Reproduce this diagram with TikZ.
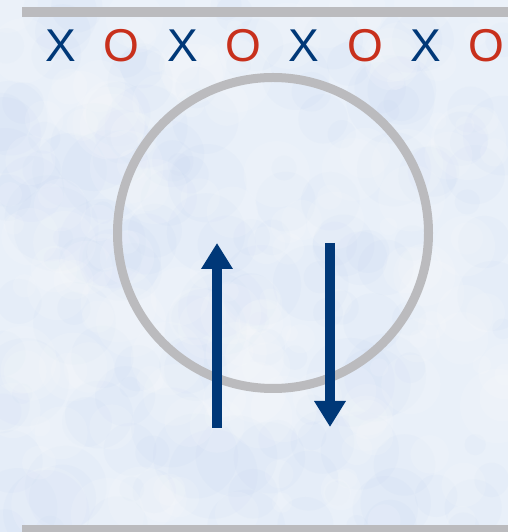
\documentclass[tikz,border=0pt]{standalone}
\usepackage{fontspec}
\newfontfamily\xofont{Liberation Sans}
\usepackage{tikz}
\usetikzlibrary{arrows.meta,calc,positioning}
\definecolor{railgray}{RGB}{187,187,190}
\definecolor{xnavy}{RGB}{0,56,120}
\definecolor{ored}{RGB}{200,48,28}
\definecolor{snowbase}{RGB}{233,240,249}
\definecolor{snowblue}{RGB}{170,196,232}
\tikzset{
  rail/.style={draw=railgray, line width=10pt},
  ring/.style={draw=railgray, line width=9pt},
  spin/.style={draw=xnavy, line width=10pt, -{Triangle[width=30pt,length=26pt]}},
  xmark/.style={anchor=base, inner sep=0pt, text=xnavy, font=\xofont\fontsize{46}{46}\selectfont},
  omark/.style={xmark, text=ored}
}
\begin{document}
\begin{tikzpicture}[x=1pt,y=1pt]
            \useasboundingbox (0,0) rectangle (508,532);
            \clip (0,0) rectangle (508,532);
            % Snowy background
            \fill[snowbase] (0,0) rectangle (508,532);
            \pgfmathsetseed{11}
            \foreach \i in {1,...,160}{
              \fill[snowblue, opacity=0.06] (rnd*508, rnd*532) circle ({10+rnd*35});
            }
            \foreach \i in {1,...,160}{
              \fill[white, opacity=0.12] (rnd*508, rnd*532) circle ({8+rnd*30});
            }
            % Rails
            \coordinate (topL) at (22, 520);
            \coordinate (topR) at (508, 520);
            \coordinate (botL) at (22, 1.5);
            \coordinate (botR) at (508, 1.5);
            \draw[rail] (topL) -- (topR);
            \draw[rail] (botL) -- (botR);
            % Row of marks
            \foreach \k [count=\n] in {0,2,4,6}{
              \node[xmark] (x\n) at ({61+60.8*\k}, 470) {X};
              \node[omark] (o\n) at ({61+60.8*(\k+1)}, 470) {O};
            }
            % Loop
            \coordinate (loop) at (273, 299);
            \draw[ring] (loop) circle (155.5);
            % Arrows
            \coordinate (upS) at (217, 104);
            \coordinate (upE) at (217, 289);
            \coordinate (dnS) at (330, 289);
            \coordinate (dnE) at (330, 105);
            \draw[spin] (upS) -- (upE);
            \draw[spin] (dnS) -- (dnE);
          \end{tikzpicture}
\end{document}
